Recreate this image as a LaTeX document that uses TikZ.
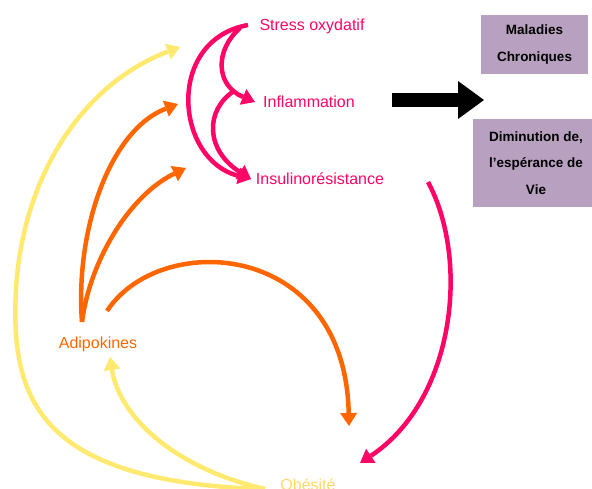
\documentclass[tikz,border=0pt]{standalone}
\usepackage{fontspec}
\setmainfont{Liberation Sans}
\usetikzlibrary{arrows.meta,positioning}
\definecolor{rose}{HTML}{FF0566}
\definecolor{orangevif}{HTML}{FF6600}
\definecolor{jaune}{HTML}{FFE96E}
\definecolor{jaunetxt}{HTML}{FFD966}
\definecolor{mauve}{HTML}{B8A0C0}

\begin{document}
\begin{tikzpicture}[x=1pt,y=-1pt]
      \tikzstyle{etiquette} = [inner sep=0pt, anchor=base, font=\fontsize{16}{19}\selectfont]
      \tikzstyle{boite} = [rectangle, fill=mauve, align=center, font=\fontsize{13.5}{26.5}\selectfont\bfseries]
      \tikzstyle{fleche} = [line width=4.5pt, -{Triangle[length=13pt,width=17pt,line width=0pt]}]

      \useasboundingbox (0,0) rectangle (592,489);

      \node[etiquette, text=rose] (stress) at (312,31) {Stress oxydatif};
      \node[etiquette, text=rose] (inflam) at (309,108) {Inflammation};
      \node[etiquette, text=rose] (insulino) at (320,185) {Insulinorésistance};
      \node[etiquette, text=orangevif] (adipo) at (98,348) {Adipokines};
      \node[etiquette, text=jaunetxt] (obesite) at (308,490) {Obésité};
      \node[boite, minimum width=107pt, minimum height=59pt] (maladies) at (534.5,44.5) {Maladies\\Chroniques};
      \node[boite, minimum width=126pt, minimum height=88pt] (esperance) at (536,163) {Diminution de,\\l’espérance de\\Vie};

      \coordinate (so1) at (248,25);
      \coordinate (so2) at (240,28);
      \coordinate (embr) at (234,91);
      \coordinate (infl1) at (255,102);
      \coordinate (insu1) at (251,179);
      \coordinate (insu2) at (428,182);
      \coordinate (ad1) at (82,322);
      \coordinate (ad2) at (107,311);
      \coordinate (ad3) at (110,357);
      \coordinate (vers0) at (180,47);
      \coordinate (vers1) at (178,104);
      \coordinate (vers2) at (186,168);
      \coordinate (ob1) at (349,426);
      \coordinate (ob2) at (258,489);
      \coordinate (ob3) at (265,489);
      \coordinate (ob4) at (360,463);
      \coordinate (noir1) at (392,100);
      \coordinate (noir2) at (484,100);

      \draw[fleche, rose] (so1) .. controls (165,40) and (175,160) .. (insu1);
      \draw[fleche, rose] (so2) .. controls (215,50) and (215,85) .. (infl1);
      \draw[fleche, rose] (embr) .. controls (205,110) and (205,150) .. (insu1);
      \draw[fleche, rose] (insu2) .. controls (470,260) and (455,400) .. (ob4);

      \draw[fleche, orangevif] (ad1) .. controls (75,230) and (110,130) .. (vers1);
      \draw[fleche, orangevif] (ad1) .. controls (90,260) and (130,195) .. (vers2);
      \draw[fleche, orangevif] (ad2) .. controls (160,230) and (345,240) .. (ob1);

      \draw[fleche, jaune] (ob2) .. controls (40,480) and (10,400) .. (16,290) .. controls (22,180) and (80,85) .. (vers0);
      \draw[fleche, jaune] (ob3) .. controls (180,470) and (120,420) .. (ad3);

      \draw[line width=14pt, -{Triangle[length=26pt,width=38pt,line width=0pt]}] (noir1) -- (noir2);
    \end{tikzpicture}
\end{document}
